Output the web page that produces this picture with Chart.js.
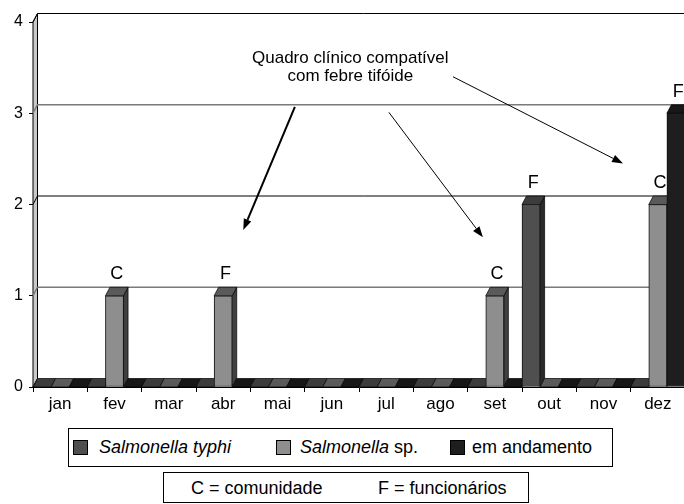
<!DOCTYPE html>
<html>
<head>
<meta charset="utf-8">
<script src="https://cdn.jsdelivr.net/npm/chart.js@4"></script>
<style>
  body { margin: 0; width: 684px; height: 504px; overflow: hidden; background: #fff;
         font-family: "Liberation Sans", Arial, sans-serif; position: relative; }
  #wrap { position: absolute; left: 0; top: 0; width: 690px; height: 420px; }
  .box { position: absolute; border: 1px solid #000; background: #fff; box-sizing: border-box; }
  .item { position: absolute; font-size: 18px; line-height: 20px; white-space: nowrap; }
  .sw { position: absolute; width: 15px; height: 15px; border: 1px solid #000; box-sizing: border-box; }
</style>
</head>
<body>
<div id="wrap"><canvas id="chart" width="690" height="420"></canvas></div>

<div class="box" id="legend" style="left:68px; top:428px; width:545px; height:39px;"></div>
<div class="box" style="left:163px; top:472px; width:366px; height:31px;">
  <span class="item" style="left:27px; top:5px;">C = comunidade</span>
  <span class="item" style="left:214px; top:5px;">F = funcionários</span>
</div>

<script>
// meses
var months = ['jan', 'fev', 'mar', 'abr', 'mai', 'jun', 'jul', 'ago', 'set', 'out', 'nov', 'dez'];

// casos por mes
var typhi     = [0, 0, 0, 0, 0, 0, 0, 0, 0, 2, 0, 0];
var sp        = [0, 1, 0, 1, 0, 0, 0, 0, 1, 0, 0, 2];
var andamento = [0, 0, 0, 0, 0, 0, 0, 0, 0, 0, 0, 3];

// C = comunidade, F = funcionarios
var typhiTags     = ['', '', '', '', '', '', '', '', '', 'F', '', ''];
var spTags        = ['', 'C', '', 'F', '', '', '', '', 'C', '', '', 'C'];
var andamentoTags = ['', '', '', '', '', '', '', '', '', '', '', 'F'];

var yTicks = [0, 1, 2, 3, 4];

var noteLines = ['Quadro clínico compatível', 'com febre tifóide'];
// arrows in data coordinates: [x0, y0, x1, y1, width]
var noteArrows = [
  [4.32, 3.07, 3.37, 1.72, 2],
  [6.05, 3.01, 7.78, 1.64, 1],
  [7.23, 3.40, 10.36, 2.45, 1]
];

var frontColors = ['#4f4f4f', '#8e8e8e', '#1e1e1e'];
var topColors = ['#3c3c3c', '#5a5a5a', '#171717'];
var sideColors = ['#2a2a2a', '#404040', '#0e0e0e'];
var DX = 4.5, DY = 8.5;
var FONT = '"Liberation Sans", Arial, sans-serif';

function poly(ctx, pts, fill) {
  ctx.beginPath();
  ctx.moveTo(pts[0][0], pts[0][1]);
  for (var i = 1; i < pts.length; i++) ctx.lineTo(pts[i][0], pts[i][1]);
  ctx.closePath();
  if (fill) { ctx.fillStyle = fill; ctx.fill(); }
  ctx.stroke();
}

var depthPlugin = {
  id: 'depth',
  beforeDatasetsDraw: function (chart) {
    var ctx = chart.ctx, a = chart.chartArea, y = chart.scales.y;
    ctx.save();
    // side wall
    ctx.strokeStyle = '#000';
    ctx.lineWidth = 1;
    poly(ctx, [[a.left, a.bottom], [a.left, a.top], [a.left + DX, a.top - DY], [a.left + DX, a.bottom - DY]], '#c8c8c8');
    // back gridlines
    yTicks.forEach(function (v) {
      if (v === 0) return;
      var py = y.getPixelForValue(v);
      ctx.strokeStyle = v % 2 === 0 ? '#000' : '#7a7a7a';
      ctx.lineWidth = v % 2 === 0 ? 1 : 1.5;
      ctx.beginPath();
      ctx.moveTo(a.left, py);
      ctx.lineTo(a.left + DX, py - DY);
      ctx.lineTo(chart.width, py - DY);
      ctx.stroke();
    });
    // tops and sides of the columns
    ctx.strokeStyle = '#000';
    ctx.lineWidth = 0.7;
    for (var i = 0; i < months.length; i++) {
      for (var d = 0; d < chart.data.datasets.length; d++) {
        var p = chart.getDatasetMeta(d).data[i].getProps(['x', 'y', 'base', 'width'], true);
        var l = p.x - p.width / 2, r = p.x + p.width / 2;
        if (p.y < p.base - 0.5) {
          poly(ctx, [[r, p.y], [r + DX, p.y - DY], [r + DX, p.base - DY], [r, p.base]], sideColors[d]);
        }
        poly(ctx, [[l, p.y], [l + DX, p.y - DY], [r + DX, p.y - DY], [r, p.y]], topColors[d]);
      }
    }
    ctx.restore();
  },
  afterDatasetsDraw: function (chart) {
    var ctx = chart.ctx;
    var tags = [typhiTags, spTags, andamentoTags];
    ctx.save();
    ctx.fillStyle = '#000';
    ctx.font = '18px ' + FONT;
    ctx.textAlign = 'center';
    ctx.textBaseline = 'alphabetic';
    for (var d = 0; d < tags.length; d++) {
      chart.getDatasetMeta(d).data.forEach(function (bar, i) {
        if (!tags[d][i]) return;
        var p = bar.getProps(['x', 'y'], true);
        ctx.fillText(tags[d][i], p.x + DX / 2, p.y - DY - 8);
      });
    }
    ctx.restore();
  },
  afterDraw: function (chart) {
    var ctx = chart.ctx, xs = chart.scales.x, ys = chart.scales.y;
    ctx.save();
    ctx.fillStyle = '#000';
    ctx.font = '17px ' + FONT;
    ctx.textAlign = 'center';
    ctx.fillText(noteLines[0], xs.getPixelForValue(5.34), ys.getPixelForValue(3.55));
    ctx.fillText(noteLines[1], xs.getPixelForValue(5.34), ys.getPixelForValue(3.35));
    ctx.strokeStyle = '#000';
    noteArrows.forEach(function (ar) {
      var x0 = xs.getPixelForValue(ar[0]), y0 = ys.getPixelForValue(ar[1]);
      var x1 = xs.getPixelForValue(ar[2]), y1 = ys.getPixelForValue(ar[3]);
      var ang = Math.atan2(y1 - y0, x1 - x0), len = 11, hw = 4;
      var bx = x1 - len * Math.cos(ang), by = y1 - len * Math.sin(ang);
      ctx.lineWidth = ar[4];
      ctx.beginPath();
      ctx.moveTo(x0, y0);
      ctx.lineTo(bx, by);
      ctx.stroke();
      ctx.beginPath();
      ctx.moveTo(x1, y1);
      ctx.lineTo(bx + hw * Math.sin(ang), by - hw * Math.cos(ang));
      ctx.lineTo(bx - hw * Math.sin(ang), by + hw * Math.cos(ang));
      ctx.closePath();
      ctx.fill();
    });
    ctx.restore();
  }
};

var ctx = document.getElementById('chart');
var chart = new Chart(ctx, {
  type: 'bar',
  data: {
    labels: months,
    datasets: [
      { label: 'Salmonella typhi', data: typhi, backgroundColor: frontColors[0] },
      { label: 'Salmonella sp.', data: sp, backgroundColor: frontColors[1] },
      { label: 'em andamento', data: andamento, backgroundColor: frontColors[2] }
    ]
  },
  options: {
    responsive: false,
    animation: false,
    devicePixelRatio: 1,
    layout: { padding: { top: 22, right: 5, left: 0, bottom: 0 } },
    datasets: {
      bar: { barPercentage: 1, categoryPercentage: 1, borderWidth: 1, borderColor: '#111', borderSkipped: false }
    },
    plugins: { legend: { display: false }, tooltip: { enabled: false } },
    scales: {
      x: {
        offset: true,
        afterFit: function (s) { s.height = 33; },
        grid: { offset: true, drawOnChartArea: false, tickLength: 5, color: '#000' },
        border: { color: '#000' },
        ticks: { color: '#000', padding: 2, font: { size: 17, family: FONT } }
      },
      y: {
        min: 0,
        max: 4,
        afterFit: function (s) { s.width = 33; },
        afterBuildTicks: function (s) { s.ticks = yTicks.map(function (v) { return { value: v }; }); },
        grid: { drawOnChartArea: false, tickLength: 4, color: '#000' },
        border: { color: '#000' },
        ticks: { color: '#000', padding: 6, font: { size: 16, family: FONT } }
      }
    }
  },
  plugins: [depthPlugin]
});

// legend built from the datasets
var legendParts = [
  { lefts: [4, 30], html: '<i>Salmonella typhi</i>' },
  { lefts: [207, 231], html: '<i>Salmonella</i> sp.' },
  { lefts: [381, 403], html: 'em andamento' }
];
var legend = document.getElementById('legend');
chart.data.datasets.forEach(function (ds, i) {
  var sw = document.createElement('span');
  sw.className = 'sw';
  sw.style.left = legendParts[i].lefts[0] + 'px';
  sw.style.top = '11px';
  sw.style.background = ds.backgroundColor;
  legend.appendChild(sw);
  var tx = document.createElement('span');
  tx.className = 'item';
  tx.style.left = legendParts[i].lefts[1] + 'px';
  tx.style.top = '8px';
  tx.innerHTML = legendParts[i].html;
  legend.appendChild(tx);
});
</script>
</body>
</html>
